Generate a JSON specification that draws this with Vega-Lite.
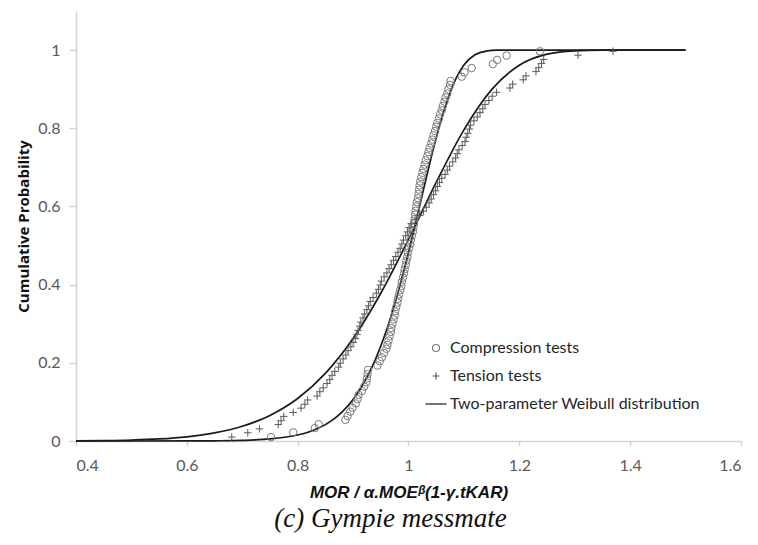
{
  "$schema": "https://vega.github.io/schema/vega-lite/v6.json",
  "width": 665,
  "height": 430,
  "autosize": {"type": "none"},
  "padding": {"left": 76, "top": 11, "right": 17, "bottom": 104},
  "background": "white",
  "config": {
    "view": {"stroke": null},
    "font": "Lato",
    "axis": {
      "grid": false,
      "domainColor": "#d4d4d4",
      "domainWidth": 1.5,
      "tickColor": "#d4d4d4",
      "tickWidth": 1.5,
      "labelColor": "#595959",
      "labelFont": "Lato",
      "labelFontSize": 16,
      "titleColor": "#111111"
    }
  },
  "title": {
    "text": "(c) Gympie messmate",
    "orient": "bottom",
    "anchor": "middle",
    "font": "Liberation Serif",
    "fontStyle": "italic",
    "fontWeight": "normal",
    "fontSize": 27,
    "color": "#111111",
    "offset": 6,
    "dx": -18
  },
  "datasets": {
    "tests": [
      {"series": "Compression tests", "x": 0.752, "p": 0.010},
      {"series": "Compression tests", "x": 0.792, "p": 0.022},
      {"series": "Compression tests", "x": 0.831, "p": 0.033},
      {"series": "Compression tests", "x": 0.838, "p": 0.043},
      {"series": "Compression tests", "x": 0.886, "p": 0.054},
      {"series": "Compression tests", "x": 0.890, "p": 0.064},
      {"series": "Compression tests", "x": 0.895, "p": 0.075},
      {"series": "Compression tests", "x": 0.899, "p": 0.085},
      {"series": "Compression tests", "x": 0.905, "p": 0.096},
      {"series": "Compression tests", "x": 0.908, "p": 0.107},
      {"series": "Compression tests", "x": 0.910, "p": 0.118},
      {"series": "Compression tests", "x": 0.916, "p": 0.128},
      {"series": "Compression tests", "x": 0.920, "p": 0.139},
      {"series": "Compression tests", "x": 0.924, "p": 0.150},
      {"series": "Compression tests", "x": 0.925, "p": 0.160},
      {"series": "Compression tests", "x": 0.926, "p": 0.171},
      {"series": "Compression tests", "x": 0.927, "p": 0.182},
      {"series": "Compression tests", "x": 0.944, "p": 0.193},
      {"series": "Compression tests", "x": 0.948, "p": 0.204},
      {"series": "Compression tests", "x": 0.952, "p": 0.214},
      {"series": "Compression tests", "x": 0.956, "p": 0.225},
      {"series": "Compression tests", "x": 0.960, "p": 0.236},
      {"series": "Compression tests", "x": 0.962, "p": 0.246},
      {"series": "Compression tests", "x": 0.964, "p": 0.257},
      {"series": "Compression tests", "x": 0.966, "p": 0.268},
      {"series": "Compression tests", "x": 0.968, "p": 0.279},
      {"series": "Compression tests", "x": 0.969, "p": 0.289},
      {"series": "Compression tests", "x": 0.971, "p": 0.300},
      {"series": "Compression tests", "x": 0.973, "p": 0.311},
      {"series": "Compression tests", "x": 0.975, "p": 0.321},
      {"series": "Compression tests", "x": 0.976, "p": 0.332},
      {"series": "Compression tests", "x": 0.978, "p": 0.343},
      {"series": "Compression tests", "x": 0.980, "p": 0.354},
      {"series": "Compression tests", "x": 0.981, "p": 0.364},
      {"series": "Compression tests", "x": 0.983, "p": 0.375},
      {"series": "Compression tests", "x": 0.985, "p": 0.386},
      {"series": "Compression tests", "x": 0.987, "p": 0.396},
      {"series": "Compression tests", "x": 0.988, "p": 0.407},
      {"series": "Compression tests", "x": 0.990, "p": 0.418},
      {"series": "Compression tests", "x": 0.992, "p": 0.429},
      {"series": "Compression tests", "x": 0.993, "p": 0.439},
      {"series": "Compression tests", "x": 0.995, "p": 0.450},
      {"series": "Compression tests", "x": 0.996, "p": 0.461},
      {"series": "Compression tests", "x": 0.998, "p": 0.471},
      {"series": "Compression tests", "x": 0.999, "p": 0.482},
      {"series": "Compression tests", "x": 1.001, "p": 0.493},
      {"series": "Compression tests", "x": 1.003, "p": 0.504},
      {"series": "Compression tests", "x": 1.004, "p": 0.514},
      {"series": "Compression tests", "x": 1.006, "p": 0.525},
      {"series": "Compression tests", "x": 1.008, "p": 0.536},
      {"series": "Compression tests", "x": 1.009, "p": 0.546},
      {"series": "Compression tests", "x": 1.010, "p": 0.557},
      {"series": "Compression tests", "x": 1.011, "p": 0.568},
      {"series": "Compression tests", "x": 1.012, "p": 0.579},
      {"series": "Compression tests", "x": 1.013, "p": 0.589},
      {"series": "Compression tests", "x": 1.014, "p": 0.600},
      {"series": "Compression tests", "x": 1.015, "p": 0.611},
      {"series": "Compression tests", "x": 1.017, "p": 0.621},
      {"series": "Compression tests", "x": 1.018, "p": 0.632},
      {"series": "Compression tests", "x": 1.019, "p": 0.643},
      {"series": "Compression tests", "x": 1.020, "p": 0.654},
      {"series": "Compression tests", "x": 1.021, "p": 0.664},
      {"series": "Compression tests", "x": 1.023, "p": 0.675},
      {"series": "Compression tests", "x": 1.025, "p": 0.686},
      {"series": "Compression tests", "x": 1.027, "p": 0.696},
      {"series": "Compression tests", "x": 1.029, "p": 0.707},
      {"series": "Compression tests", "x": 1.031, "p": 0.718},
      {"series": "Compression tests", "x": 1.034, "p": 0.729},
      {"series": "Compression tests", "x": 1.036, "p": 0.739},
      {"series": "Compression tests", "x": 1.038, "p": 0.750},
      {"series": "Compression tests", "x": 1.041, "p": 0.761},
      {"series": "Compression tests", "x": 1.043, "p": 0.771},
      {"series": "Compression tests", "x": 1.045, "p": 0.782},
      {"series": "Compression tests", "x": 1.048, "p": 0.793},
      {"series": "Compression tests", "x": 1.050, "p": 0.804},
      {"series": "Compression tests", "x": 1.052, "p": 0.814},
      {"series": "Compression tests", "x": 1.055, "p": 0.825},
      {"series": "Compression tests", "x": 1.057, "p": 0.836},
      {"series": "Compression tests", "x": 1.060, "p": 0.846},
      {"series": "Compression tests", "x": 1.062, "p": 0.857},
      {"series": "Compression tests", "x": 1.065, "p": 0.868},
      {"series": "Compression tests", "x": 1.067, "p": 0.879},
      {"series": "Compression tests", "x": 1.070, "p": 0.889},
      {"series": "Compression tests", "x": 1.072, "p": 0.900},
      {"series": "Compression tests", "x": 1.075, "p": 0.911},
      {"series": "Compression tests", "x": 1.076, "p": 0.921},
      {"series": "Compression tests", "x": 1.096, "p": 0.932},
      {"series": "Compression tests", "x": 1.101, "p": 0.943},
      {"series": "Compression tests", "x": 1.114, "p": 0.954},
      {"series": "Compression tests", "x": 1.152, "p": 0.964},
      {"series": "Compression tests", "x": 1.160, "p": 0.975},
      {"series": "Compression tests", "x": 1.177, "p": 0.986},
      {"series": "Compression tests", "x": 1.237, "p": 0.997},
      {"series": "Tension tests", "x": 0.681, "p": 0.010},
      {"series": "Tension tests", "x": 0.710, "p": 0.021},
      {"series": "Tension tests", "x": 0.731, "p": 0.031},
      {"series": "Tension tests", "x": 0.765, "p": 0.042},
      {"series": "Tension tests", "x": 0.770, "p": 0.052},
      {"series": "Tension tests", "x": 0.775, "p": 0.063},
      {"series": "Tension tests", "x": 0.792, "p": 0.073},
      {"series": "Tension tests", "x": 0.806, "p": 0.084},
      {"series": "Tension tests", "x": 0.813, "p": 0.094},
      {"series": "Tension tests", "x": 0.818, "p": 0.105},
      {"series": "Tension tests", "x": 0.835, "p": 0.115},
      {"series": "Tension tests", "x": 0.840, "p": 0.126},
      {"series": "Tension tests", "x": 0.846, "p": 0.136},
      {"series": "Tension tests", "x": 0.853, "p": 0.147},
      {"series": "Tension tests", "x": 0.858, "p": 0.157},
      {"series": "Tension tests", "x": 0.862, "p": 0.168},
      {"series": "Tension tests", "x": 0.867, "p": 0.178},
      {"series": "Tension tests", "x": 0.874, "p": 0.189},
      {"series": "Tension tests", "x": 0.877, "p": 0.199},
      {"series": "Tension tests", "x": 0.882, "p": 0.210},
      {"series": "Tension tests", "x": 0.887, "p": 0.220},
      {"series": "Tension tests", "x": 0.891, "p": 0.231},
      {"series": "Tension tests", "x": 0.896, "p": 0.241},
      {"series": "Tension tests", "x": 0.900, "p": 0.252},
      {"series": "Tension tests", "x": 0.904, "p": 0.262},
      {"series": "Tension tests", "x": 0.907, "p": 0.273},
      {"series": "Tension tests", "x": 0.909, "p": 0.283},
      {"series": "Tension tests", "x": 0.912, "p": 0.294},
      {"series": "Tension tests", "x": 0.914, "p": 0.304},
      {"series": "Tension tests", "x": 0.918, "p": 0.315},
      {"series": "Tension tests", "x": 0.921, "p": 0.325},
      {"series": "Tension tests", "x": 0.925, "p": 0.336},
      {"series": "Tension tests", "x": 0.928, "p": 0.346},
      {"series": "Tension tests", "x": 0.931, "p": 0.357},
      {"series": "Tension tests", "x": 0.936, "p": 0.367},
      {"series": "Tension tests", "x": 0.942, "p": 0.378},
      {"series": "Tension tests", "x": 0.946, "p": 0.388},
      {"series": "Tension tests", "x": 0.949, "p": 0.399},
      {"series": "Tension tests", "x": 0.951, "p": 0.409},
      {"series": "Tension tests", "x": 0.956, "p": 0.420},
      {"series": "Tension tests", "x": 0.961, "p": 0.430},
      {"series": "Tension tests", "x": 0.965, "p": 0.441},
      {"series": "Tension tests", "x": 0.969, "p": 0.451},
      {"series": "Tension tests", "x": 0.973, "p": 0.462},
      {"series": "Tension tests", "x": 0.977, "p": 0.472},
      {"series": "Tension tests", "x": 0.981, "p": 0.483},
      {"series": "Tension tests", "x": 0.985, "p": 0.493},
      {"series": "Tension tests", "x": 0.988, "p": 0.504},
      {"series": "Tension tests", "x": 0.991, "p": 0.514},
      {"series": "Tension tests", "x": 0.995, "p": 0.525},
      {"series": "Tension tests", "x": 0.998, "p": 0.535},
      {"series": "Tension tests", "x": 1.001, "p": 0.546},
      {"series": "Tension tests", "x": 1.005, "p": 0.556},
      {"series": "Tension tests", "x": 1.012, "p": 0.567},
      {"series": "Tension tests", "x": 1.020, "p": 0.577},
      {"series": "Tension tests", "x": 1.027, "p": 0.588},
      {"series": "Tension tests", "x": 1.032, "p": 0.598},
      {"series": "Tension tests", "x": 1.037, "p": 0.609},
      {"series": "Tension tests", "x": 1.041, "p": 0.619},
      {"series": "Tension tests", "x": 1.045, "p": 0.630},
      {"series": "Tension tests", "x": 1.049, "p": 0.640},
      {"series": "Tension tests", "x": 1.052, "p": 0.651},
      {"series": "Tension tests", "x": 1.056, "p": 0.661},
      {"series": "Tension tests", "x": 1.060, "p": 0.672},
      {"series": "Tension tests", "x": 1.066, "p": 0.682},
      {"series": "Tension tests", "x": 1.070, "p": 0.693},
      {"series": "Tension tests", "x": 1.074, "p": 0.703},
      {"series": "Tension tests", "x": 1.080, "p": 0.714},
      {"series": "Tension tests", "x": 1.085, "p": 0.724},
      {"series": "Tension tests", "x": 1.088, "p": 0.735},
      {"series": "Tension tests", "x": 1.091, "p": 0.745},
      {"series": "Tension tests", "x": 1.097, "p": 0.756},
      {"series": "Tension tests", "x": 1.102, "p": 0.766},
      {"series": "Tension tests", "x": 1.104, "p": 0.777},
      {"series": "Tension tests", "x": 1.107, "p": 0.787},
      {"series": "Tension tests", "x": 1.110, "p": 0.798},
      {"series": "Tension tests", "x": 1.112, "p": 0.808},
      {"series": "Tension tests", "x": 1.118, "p": 0.819},
      {"series": "Tension tests", "x": 1.124, "p": 0.829},
      {"series": "Tension tests", "x": 1.129, "p": 0.840},
      {"series": "Tension tests", "x": 1.134, "p": 0.850},
      {"series": "Tension tests", "x": 1.138, "p": 0.861},
      {"series": "Tension tests", "x": 1.145, "p": 0.871},
      {"series": "Tension tests", "x": 1.151, "p": 0.882},
      {"series": "Tension tests", "x": 1.159, "p": 0.892},
      {"series": "Tension tests", "x": 1.183, "p": 0.903},
      {"series": "Tension tests", "x": 1.188, "p": 0.913},
      {"series": "Tension tests", "x": 1.207, "p": 0.924},
      {"series": "Tension tests", "x": 1.212, "p": 0.934},
      {"series": "Tension tests", "x": 1.230, "p": 0.945},
      {"series": "Tension tests", "x": 1.235, "p": 0.955},
      {"series": "Tension tests", "x": 1.240, "p": 0.966},
      {"series": "Tension tests", "x": 1.244, "p": 0.976},
      {"series": "Tension tests", "x": 1.306, "p": 0.987},
      {"series": "Tension tests", "x": 1.369, "p": 0.997}
    ],
    "weibull": [
      {"curve": "compression", "series": "Two-parameter Weibull distribution", "x": 0.40, "p": 0.0},
      {"curve": "compression", "series": "Two-parameter Weibull distribution", "x": 0.50, "p": 0.0},
      {"curve": "compression", "series": "Two-parameter Weibull distribution", "x": 0.60, "p": 0.0001},
      {"curve": "compression", "series": "Two-parameter Weibull distribution", "x": 0.65, "p": 0.0005},
      {"curve": "compression", "series": "Two-parameter Weibull distribution", "x": 0.70, "p": 0.0016},
      {"curve": "compression", "series": "Two-parameter Weibull distribution", "x": 0.75, "p": 0.0052},
      {"curve": "compression", "series": "Two-parameter Weibull distribution", "x": 0.80, "p": 0.0154},
      {"curve": "compression", "series": "Two-parameter Weibull distribution", "x": 0.82, "p": 0.0232},
      {"curve": "compression", "series": "Two-parameter Weibull distribution", "x": 0.84, "p": 0.0345},
      {"curve": "compression", "series": "Two-parameter Weibull distribution", "x": 0.86, "p": 0.0509},
      {"curve": "compression", "series": "Two-parameter Weibull distribution", "x": 0.88, "p": 0.0740},
      {"curve": "compression", "series": "Two-parameter Weibull distribution", "x": 0.90, "p": 0.1060},
      {"curve": "compression", "series": "Two-parameter Weibull distribution", "x": 0.92, "p": 0.1497},
      {"curve": "compression", "series": "Two-parameter Weibull distribution", "x": 0.94, "p": 0.2076},
      {"curve": "compression", "series": "Two-parameter Weibull distribution", "x": 0.96, "p": 0.2822},
      {"curve": "compression", "series": "Two-parameter Weibull distribution", "x": 0.98, "p": 0.3742},
      {"curve": "compression", "series": "Two-parameter Weibull distribution", "x": 1.00, "p": 0.4822},
      {"curve": "compression", "series": "Two-parameter Weibull distribution", "x": 1.02, "p": 0.6006},
      {"curve": "compression", "series": "Two-parameter Weibull distribution", "x": 1.04, "p": 0.7196},
      {"curve": "compression", "series": "Two-parameter Weibull distribution", "x": 1.06, "p": 0.8266},
      {"curve": "compression", "series": "Two-parameter Weibull distribution", "x": 1.08, "p": 0.9093},
      {"curve": "compression", "series": "Two-parameter Weibull distribution", "x": 1.10, "p": 0.9617},
      {"curve": "compression", "series": "Two-parameter Weibull distribution", "x": 1.12, "p": 0.9879},
      {"curve": "compression", "series": "Two-parameter Weibull distribution", "x": 1.14, "p": 0.9974},
      {"curve": "compression", "series": "Two-parameter Weibull distribution", "x": 1.16, "p": 0.9997},
      {"curve": "compression", "series": "Two-parameter Weibull distribution", "x": 1.18, "p": 1.0},
      {"curve": "compression", "series": "Two-parameter Weibull distribution", "x": 1.20, "p": 1.0},
      {"curve": "compression", "series": "Two-parameter Weibull distribution", "x": 1.30, "p": 1.0},
      {"curve": "compression", "series": "Two-parameter Weibull distribution", "x": 1.40, "p": 1.0},
      {"curve": "compression", "series": "Two-parameter Weibull distribution", "x": 1.50, "p": 1.0},
      {"curve": "tension", "series": "Two-parameter Weibull distribution", "x": 0.40, "p": 0.0004},
      {"curve": "tension", "series": "Two-parameter Weibull distribution", "x": 0.45, "p": 0.0010},
      {"curve": "tension", "series": "Two-parameter Weibull distribution", "x": 0.50, "p": 0.0024},
      {"curve": "tension", "series": "Two-parameter Weibull distribution", "x": 0.55, "p": 0.0052},
      {"curve": "tension", "series": "Two-parameter Weibull distribution", "x": 0.60, "p": 0.0107},
      {"curve": "tension", "series": "Two-parameter Weibull distribution", "x": 0.65, "p": 0.0206},
      {"curve": "tension", "series": "Two-parameter Weibull distribution", "x": 0.70, "p": 0.0376},
      {"curve": "tension", "series": "Two-parameter Weibull distribution", "x": 0.75, "p": 0.0655},
      {"curve": "tension", "series": "Two-parameter Weibull distribution", "x": 0.80, "p": 0.1088},
      {"curve": "tension", "series": "Two-parameter Weibull distribution", "x": 0.85, "p": 0.1730},
      {"curve": "tension", "series": "Two-parameter Weibull distribution", "x": 0.90, "p": 0.2621},
      {"curve": "tension", "series": "Two-parameter Weibull distribution", "x": 0.95, "p": 0.3780},
      {"curve": "tension", "series": "Two-parameter Weibull distribution", "x": 1.00, "p": 0.5155},
      {"curve": "tension", "series": "Two-parameter Weibull distribution", "x": 1.05, "p": 0.6615},
      {"curve": "tension", "series": "Two-parameter Weibull distribution", "x": 1.10, "p": 0.7959},
      {"curve": "tension", "series": "Two-parameter Weibull distribution", "x": 1.15, "p": 0.8990},
      {"curve": "tension", "series": "Two-parameter Weibull distribution", "x": 1.20, "p": 0.9614},
      {"curve": "tension", "series": "Two-parameter Weibull distribution", "x": 1.25, "p": 0.9895},
      {"curve": "tension", "series": "Two-parameter Weibull distribution", "x": 1.30, "p": 0.9982},
      {"curve": "tension", "series": "Two-parameter Weibull distribution", "x": 1.35, "p": 0.9998},
      {"curve": "tension", "series": "Two-parameter Weibull distribution", "x": 1.40, "p": 1.0},
      {"curve": "tension", "series": "Two-parameter Weibull distribution", "x": 1.50, "p": 1.0}
    ]
  },
  "encoding": {
    "x": {
      "field": "x",
      "type": "quantitative",
      "scale": {"domain": [0.4, 1.6], "nice": false, "zero": false},
      "axis": {
        "values": [0.4, 0.6, 0.8, 1.0, 1.2, 1.4, 1.6],
        "format": ".1~f",
        "tickSize": 5,
        "labelPadding": 11,
        "title": "MOR / α.MOEᵝ(1-γ.tKAR)",
        "titleFont": "Liberation Sans",
        "titleFontSize": 17,
        "titleFontStyle": "italic",
        "titleFontWeight": "bold",
        "titlePadding": 11
      }
    },
    "y": {
      "field": "p",
      "type": "quantitative",
      "scale": {"domain": [0, 1.1], "nice": false},
      "axis": {
        "values": [0, 0.2, 0.4, 0.6, 0.8, 1.0],
        "format": ".1~f",
        "tickSize": 7,
        "labelPadding": 9,
        "title": "Cumulative Probability",
        "titleFont": "Open Sans",
        "titleFontSize": 15,
        "titleFontWeight": "bold",
        "titlePadding": 6
      }
    },
    "color": {
      "field": "series",
      "type": "nominal",
      "scale": {
        "domain": ["Compression tests", "Tension tests", "Two-parameter Weibull distribution"],
        "range": ["#7a7a7a", "#5a5a5a", "#1a1a1a"]
      },
      "legend": {
        "title": null,
        "orient": "none",
        "legendX": 352,
        "legendY": 329,
        "padding": 0,
        "labelFont": "Lato",
        "labelFontSize": 16,
        "labelColor": "#262626",
        "labelLimit": 0,
        "labelOffset": 6,
        "rowPadding": 12,
        "symbolSize": 49,
        "symbolStrokeWidth": 1.2,
        "symbolFillColor": "transparent"
      }
    }
  },
  "layer": [
    {
      "data": {"name": "weibull"},
      "mark": {"type": "line", "strokeWidth": 1.7, "interpolate": "monotone"},
      "encoding": {"detail": {"field": "curve"}}
    },
    {
      "data": {"name": "tests"},
      "mark": {"type": "point", "filled": false, "strokeWidth": 1, "size": 56, "opacity": 1},
      "encoding": {
        "shape": {
          "field": "series",
          "type": "nominal",
          "scale": {
            "domain": ["Compression tests", "Tension tests", "Two-parameter Weibull distribution"],
            "range": ["circle", "M-1,0L1,0M0,-1L0,1", "M-3,0L3,0"]
          },
          "legend": {
            "title": null,
            "orient": "none",
            "legendX": 352,
            "legendY": 329
          }
        }
      }
    }
  ]
}
